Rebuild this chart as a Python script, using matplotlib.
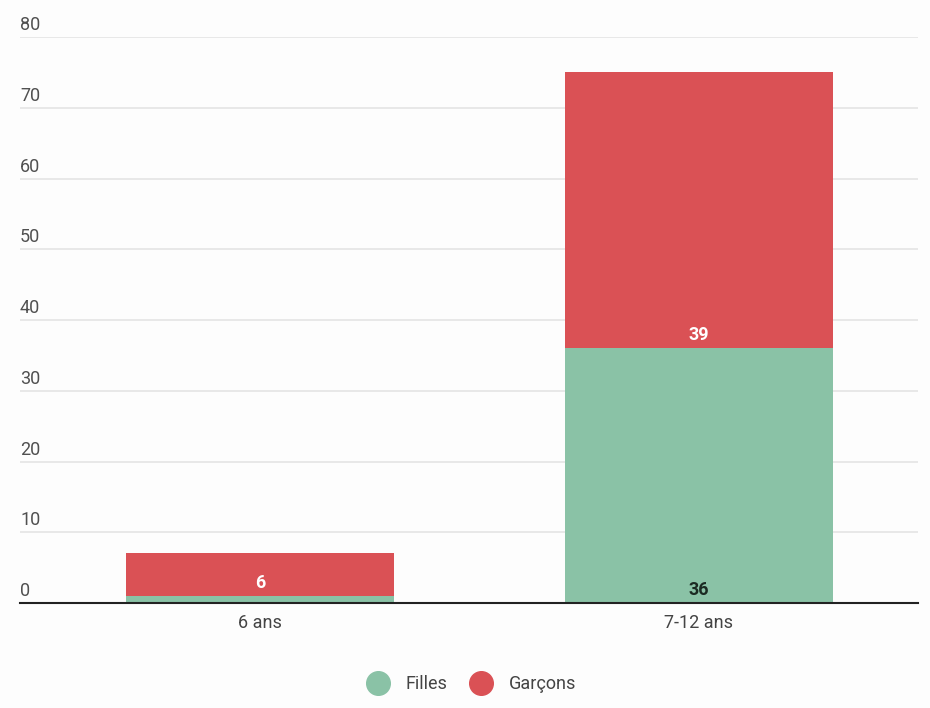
import matplotlib
matplotlib.use("Agg")
import matplotlib.pyplot as plt
from matplotlib.lines import Line2D

# ---------- Data ----------
categories = ["6 ans", "7-12 ans"]
filles = [1, 36]
garcons = [6, 39]
yticks = [0, 10, 20, 30, 40, 50, 60, 70, 80]

green = "#8AC2A6"
red = "#DA5155"

plt.rcParams["font.family"] = ["Roboto", "DejaVu Sans"]

fig = plt.figure(figsize=(9.3, 7.08), dpi=100)
fig.patch.set_facecolor("#FDFDFD")
ax = fig.add_axes([20 / 930, 105 / 708, 898 / 930, 566 / 708])
ax.set_facecolor("#FDFDFD")

x = list(range(len(categories)))
width = 0.61
ax.bar(x, filles, width=width, color=green, zorder=3)
ax.bar(x, garcons, width=width, bottom=filles, color=red, zorder=3)

ax.set_xlim(-0.547, 1.499)
ax.set_ylim(0, 80)

# grid + y labels drawn above the lines
ax.set_yticks(yticks)
ax.yaxis.grid(True, color="#E4E4E4", linewidth=1.2, zorder=0)
ax.tick_params(axis="y", length=0, labelleft=False)
for v in yticks:
    ax.annotate(str(v), xy=(0, v), xycoords=("axes fraction", "data"),
                xytext=(0, 2), textcoords="offset points",
                ha="left", va="bottom", fontsize=13, color="#505050")

ax.set_xticks(x)
ax.set_xticklabels(categories, fontsize=13, color="#444444")
ax.tick_params(axis="x", length=0, pad=8)

for s in ["top", "right", "left"]:
    ax.spines[s].set_visible(False)
ax.spines["bottom"].set_color("#222222")
ax.spines["bottom"].set_linewidth(1.5)
ax.spines["bottom"].set_zorder(4)

# value labels (small segment "1" is hidden like the original)
for i in x:
    if filles[i] >= 3:
        ax.annotate(str(filles[i]), xy=(i, 0), xytext=(0, 3),
                    textcoords="offset points", ha="center", va="bottom",
                    fontsize=13, fontweight="bold", color="#1B2A22", zorder=5)
    ax.annotate(str(garcons[i]), xy=(i, filles[i]), xytext=(0, 3),
                textcoords="offset points", ha="center", va="bottom",
                fontsize=13, fontweight="bold", color="white", zorder=5)

handles = [
    Line2D([], [], marker="o", linestyle="", markersize=17, color=green),
    Line2D([], [], marker="o", linestyle="", markersize=17, color=red),
]
fig.legend(handles, ["Filles", "Garçons"], loc="center", ncol=2,
           bbox_to_anchor=(468 / 930, 1 - 684 / 708), frameon=False,
           fontsize=13, handletextpad=0.5, columnspacing=0.9,
           labelcolor="#444444")

fig.savefig("out.png", dpi=100, facecolor=fig.get_facecolor())
